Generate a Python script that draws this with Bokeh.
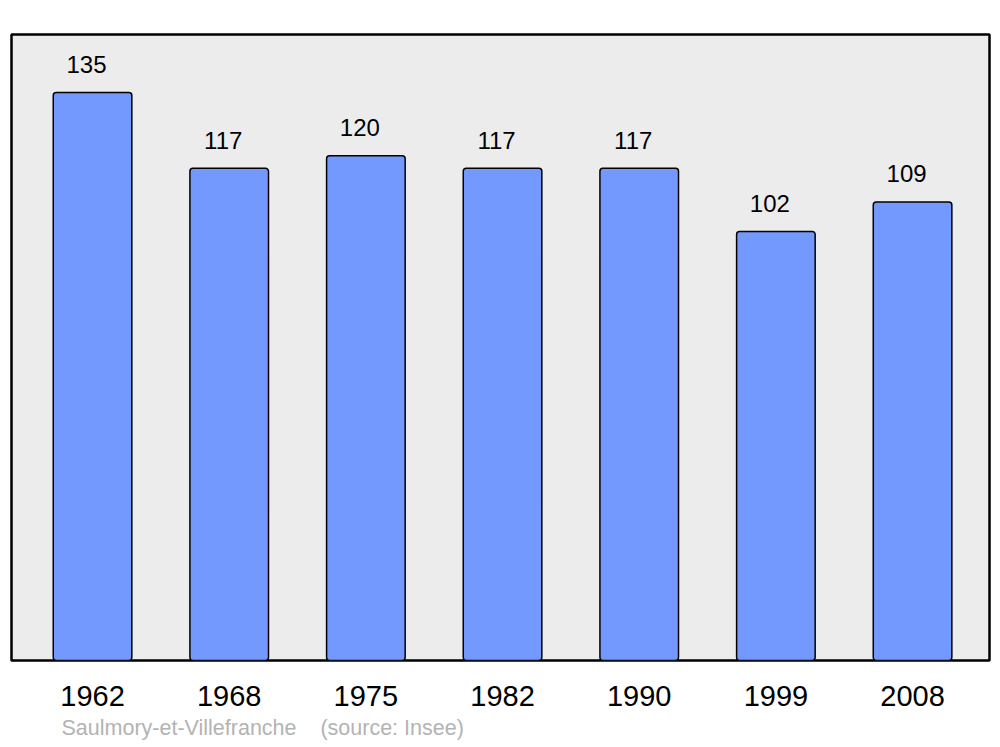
from bokeh.plotting import figure
from bokeh.models import Range1d, FixedTicker, ColumnDataSource, Title
from bokeh.core.properties import value
from bokeh.embed import file_html
from bokeh.resources import INLINE

years = ["1962", "1968", "1975", "1982", "1990", "1999", "2008"]
population = [135, 117, 120, 117, 117, 102, 109]
source_text = "Saulmory-et-Villefranche\u00a0\u00a0\u00a0\u00a0(source: Insee)"

idx = list(range(len(years)))
src = ColumnDataSource(dict(x=idx, top=population, label=[str(v) for v in population]))

FONT = "Liberation Sans"

p = figure(width=995, height=745, output_backend="svg", toolbar_location=None,
           x_range=Range1d(-0.593, 6.563), y_range=Range1d(0, 148.8),
           min_border_left=11, min_border_right=6, min_border_top=34, min_border_bottom=85)
p.background_fill_color = "#ececec"
p.border_fill_color = "white"
p.outline_line_color = "black"
p.outline_line_width = 2.5
p.grid.visible = False
p.yaxis.visible = False

p.vbar(x="x", top="top", bottom=0, width=0.575, source=src,
       fill_color="#7399ff", line_color="black", line_width=1.5, border_radius=3)

p.text(x="x", y="top", text="label", source=src, x_offset=-6, y_offset=-28,
       text_align="center", text_baseline="alphabetic",
       text_font=value(FONT), text_font_size="24px", text_color="black")

ax = p.xaxis[0]
ax.ticker = FixedTicker(ticks=idx)
ax.major_label_overrides = {i: y for i, y in zip(idx, years)}
ax.axis_line_color = None
ax.major_tick_line_color = None
ax.minor_tick_line_color = None
ax.major_label_standoff = 19
ax.major_label_text_font = FONT
ax.major_label_text_font_size = "29px"
ax.major_label_text_color = "black"

t = Title(text=source_text, align="left", offset=50, standoff=11,
          text_font=FONT, text_font_size="21.5px", text_font_style="normal",
          text_color="#b3b3b3")
p.add_layout(t, "below")

open("out.html", "w").write(file_html(p, INLINE))
